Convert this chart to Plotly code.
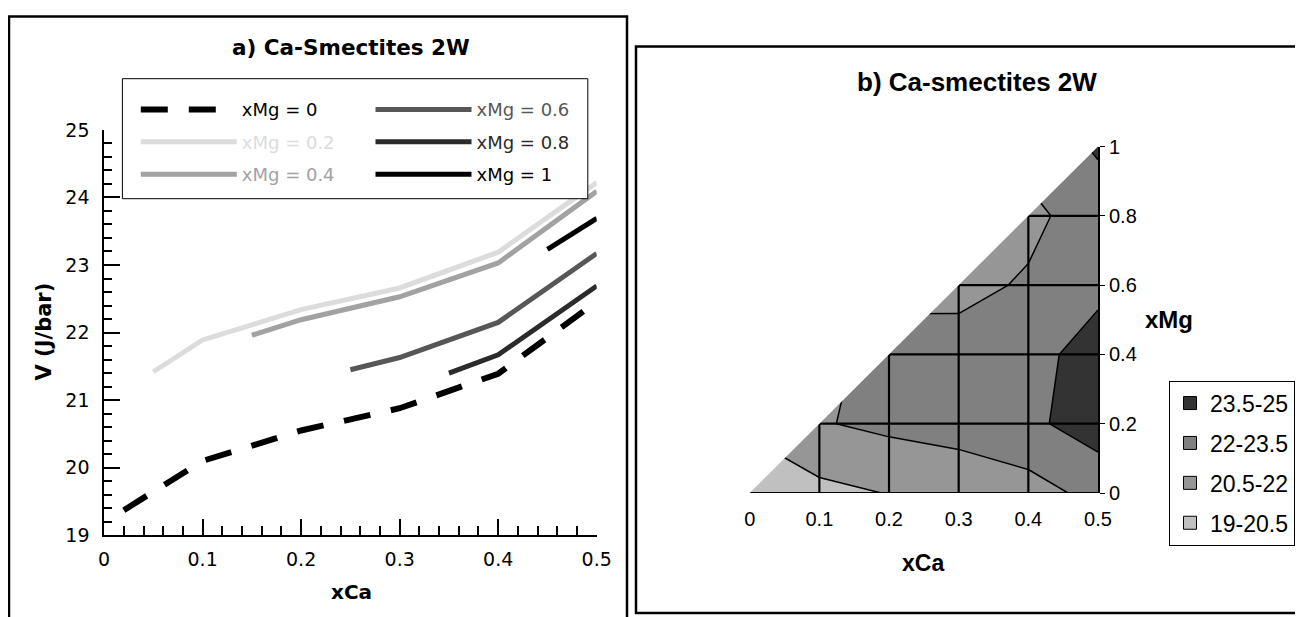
import plotly.graph_objects as go

W, H = 1303, 617
PAGE = 8  # the page body adds an 8px margin around the figure


def px(x):
    return (x - PAGE) / W


def py(y):
    return 1 - (y - PAGE) / H


# ---- a) V vs xCa, one line per xMg ----
xca_mg0 = [0.02, 0.1, 0.2, 0.3, 0.4, 0.5]
v_mg0 = [19.37, 20.10, 20.55, 20.88, 21.39, 22.46]
xca_mg02 = [0.05, 0.1, 0.2, 0.3, 0.4, 0.5]
v_mg02 = [21.42, 21.89, 22.34, 22.66, 23.19, 24.22]
xca_mg04 = [0.15, 0.2, 0.3, 0.4, 0.5]
v_mg04 = [21.96, 22.19, 22.53, 23.03, 24.09]
xca_mg06 = [0.25, 0.3, 0.4, 0.5]
v_mg06 = [21.45, 21.63, 22.15, 23.17]
xca_mg08 = [0.35, 0.4, 0.5]
v_mg08 = [21.40, 21.67, 22.69]
xca_mg1 = [0.45, 0.5]
v_mg1 = [23.23, 23.69]

series_names = ["xMg = 0", "xMg = 0.2", "xMg = 0.4", "xMg = 0.6", "xMg = 0.8", "xMg = 1"]
series_colors = ["#000000", "#dcdcdc", "#a2a2a2", "#575757", "#2b2b2b", "#000000"]

# ---- b) contour of V over (xCa, xMg) ----
xca_grid = [0, 0.1, 0.2, 0.3, 0.4, 0.5]
xmg_grid = [0, 0.2, 0.4, 0.6, 0.8, 1]
v_grid = [
    [19.18, 20.10, 20.55, 20.88, 21.39, 22.46],
    [None, 21.89, 22.34, 22.66, 23.19, 24.22],
    [None, None, 22.19, 22.53, 23.03, 24.09],
    [None, None, None, 21.63, 22.15, 23.17],
    [None, None, None, None, 21.67, 22.69],
    [None, None, None, None, None, 23.69],
]
band_labels = ["23.5-25", "22-23.5", "20.5-22", "19-20.5"]
band_colors = ["#333333", "#808080", "#969696", "#c0c0c0"]

fig = go.Figure()

xs = [xca_mg0, xca_mg02, xca_mg04, xca_mg06, xca_mg08, xca_mg1]
vs = [v_mg0, v_mg02, v_mg04, v_mg06, v_mg08, v_mg1]
for i, (x, v) in enumerate(zip(xs, vs)):
    fig.add_trace(go.Scatter(
        x=x, y=v, mode="lines",
        name=f"<span style='color:{series_colors[i]}'>{series_names[i]}</span>",
        line=dict(color=series_colors[i], width=6 if i == 0 else 5,
                  dash="27px,21px" if i == 0 else "solid"),
        legend="legend" if i < 3 else "legend2",
        legendgroup=str(i),
        xaxis="x", yaxis="y",
    ))

c0, c1, c2, c3 = band_colors[::-1]
fig.add_trace(go.Contour(
    x=xca_grid, y=xmg_grid, z=v_grid,
    xaxis="x2", yaxis="y2",
    connectgaps=True,
    autocontour=False,
    contours=dict(start=20.5, end=23.5, size=1.5, coloring="fill", showlines=True),
    line=dict(color="black", width=1.5, smoothing=0),
    colorscale=[[0, c0], [1 / 6, c0], [1 / 6, c1], [0.5, c1],
                [0.5, c2], [5 / 6, c2], [5 / 6, c3], [1, c3]],
    showscale=False, showlegend=False, hoverinfo="skip",
))

# major grid drawn on top of the surface, only inside the triangle
slope = xmg_grid[-1] / xca_grid[-1]
gx, gy = [], []
for c in xca_grid[1:-1]:
    gx += [c, c, None]
    gy += [0, c * slope, None]
for m in xmg_grid[:-1]:
    gx += [m / slope, xca_grid[-1], None]
    gy += [m, m, None]
fig.add_trace(go.Scatter(x=gx, y=gy, mode="lines", xaxis="x2", yaxis="y2",
                         line=dict(color="black", width=2.2),
                         showlegend=False, hoverinfo="skip"))

for lab, col in zip(band_labels, band_colors):
    fig.add_trace(go.Scatter(
        x=[None], y=[None], mode="markers", name=lab,
        marker=dict(symbol="square", size=13, color=col, line=dict(color="black", width=1)),
        legend="legend3", legendgroup=lab,
        xaxis="x2", yaxis="y2",
    ))

tahoma = "DejaVu Sans"
arial = "Liberation Sans"


def note(text, x, y, family, size, angle=0):
    return dict(text=text, x=px(x), y=py(y), xref="paper", yref="paper",
                xanchor="center", yanchor="middle", textangle=angle,
                showarrow=False, font=dict(family=family, size=size, color="black"))


x2_dom = [px(749.7), px(1098)]
y2_dom = [py(493), py(146.5)]
# mask over the part of the grid outside the composition triangle (paper coords,
# so it is not clipped to the plot area and leaves no seam on the edges)
mx0, mx1 = x2_dom
my0, my1 = y2_dom
mask_path = (f"M {mx0} {my0} L {mx0 - 0.01} {my0} L {mx0 - 0.01} {my1 + 0.01} "
             f"L {mx1} {my1 + 0.01} L {mx1} {my1} Z")

fig.update_layout(
    width=W, height=H,
    margin=dict(l=0, r=0, t=0, b=0, autoexpand=False),
    paper_bgcolor="white", plot_bgcolor="rgba(0,0,0,0)",
    xaxis=dict(domain=[px(104.1), px(596.7)], range=[0, 0.5], anchor="y", automargin=False,
               tick0=0, dtick=0.1, ticks="inside", ticklen=16, tickwidth=1.5, tickcolor="black",
               minor=dict(dtick=0.02, ticks="inside", ticklen=9, tickwidth=1.5, tickcolor="black",
                          showgrid=False),
               showline=True, linecolor="black", linewidth=1.5,
               showgrid=False, zeroline=False, ticklabelstandoff=6,
               tickfont=dict(family=tahoma, size=19, color="black")),
    yaxis=dict(domain=[py(535.2), py(129.9)], range=[19, 25], anchor="x", automargin=False,
               tick0=19, dtick=1, ticks="inside", ticklen=16, tickwidth=1.5, tickcolor="black",
               minor=dict(dtick=0.2, ticks="inside", ticklen=8, tickwidth=1.5, tickcolor="black",
                          showgrid=False),
               showline=True, linecolor="black", linewidth=1.5,
               showgrid=False, zeroline=False, ticklabelstandoff=9,
               tickfont=dict(family=tahoma, size=19, color="black")),
    xaxis2=dict(domain=x2_dom, range=[0, xca_grid[-1]], anchor="y2", automargin=False,
                tickvals=xca_grid, ticks="", showline=False, showgrid=False, zeroline=False,
                ticklabelstandoff=12,
                tickfont=dict(family=arial, size=20, color="black")),
    yaxis2=dict(domain=y2_dom, range=[0, xmg_grid[-1]], anchor="x2", side="right",
                automargin=False,
                tickvals=xmg_grid, ticks="outside", ticklen=5, tickcolor="black", tickwidth=1,
                showline=True, linecolor="black", linewidth=2,
                showgrid=False, zeroline=False,
                tickfont=dict(family=arial, size=20, color="black")),
    legend=dict(x=px(135.8), y=py(91.2), xanchor="left", yanchor="top",
                bgcolor="rgba(0,0,0,0)", borderwidth=0, itemwidth=96, tracegroupgap=6,
                font=dict(family=tahoma, size=18, color="black")),
    legend2=dict(x=px(370.5), y=py(91.2), xanchor="left", yanchor="top",
                 bgcolor="rgba(0,0,0,0)", borderwidth=0, itemwidth=96, tracegroupgap=6,
                 font=dict(family=tahoma, size=18, color="black")),
    legend3=dict(x=px(1169), y=py(380.6), xanchor="left", yanchor="top",
                 bgcolor="white", bordercolor="black", borderwidth=1, itemwidth=30,
                 tracegroupgap=7,
                 font=dict(family=arial, size=23, color="black")),
    shapes=[
        dict(type="path", xref="paper", yref="paper", layer="above",
             path=mask_path, fillcolor="white", line=dict(width=0)),
        # legend box of panel a
        dict(type="rect", xref="paper", yref="paper", layer="above",
             x0=px(122.4), x1=px(587.8), y0=py(198.7), y1=py(78.7),
             fillcolor="white", line=dict(color="black", width=1)),
        # panel frames
        dict(type="rect", xref="paper", yref="paper",
             x0=px(9), x1=px(627), y0=py(640), y1=py(16.5),
             line=dict(color="black", width=2.5)),
        dict(type="rect", xref="paper", yref="paper",
             x0=px(636), x1=px(1330), y0=py(613), y1=py(46.4),
             line=dict(color="black", width=2.5)),
    ],
    annotations=[
        note("<b>a) Ca-Smectites 2W</b>", 351, 48, tahoma, 21.5),
        note("<b>xCa</b>", 351, 592, tahoma, 20),
        note("<b>V (J/bar)</b>", 43, 331.5, tahoma, 21, angle=-90),
        note("<b>b) Ca-smectites 2W</b>", 977, 82, arial, 26),
        note("<b>xCa</b>", 923, 563, arial, 23),
        note("<b>xMg</b>", 1169, 319.5, arial, 24),
    ],
)

fig.write_html("out.html")
